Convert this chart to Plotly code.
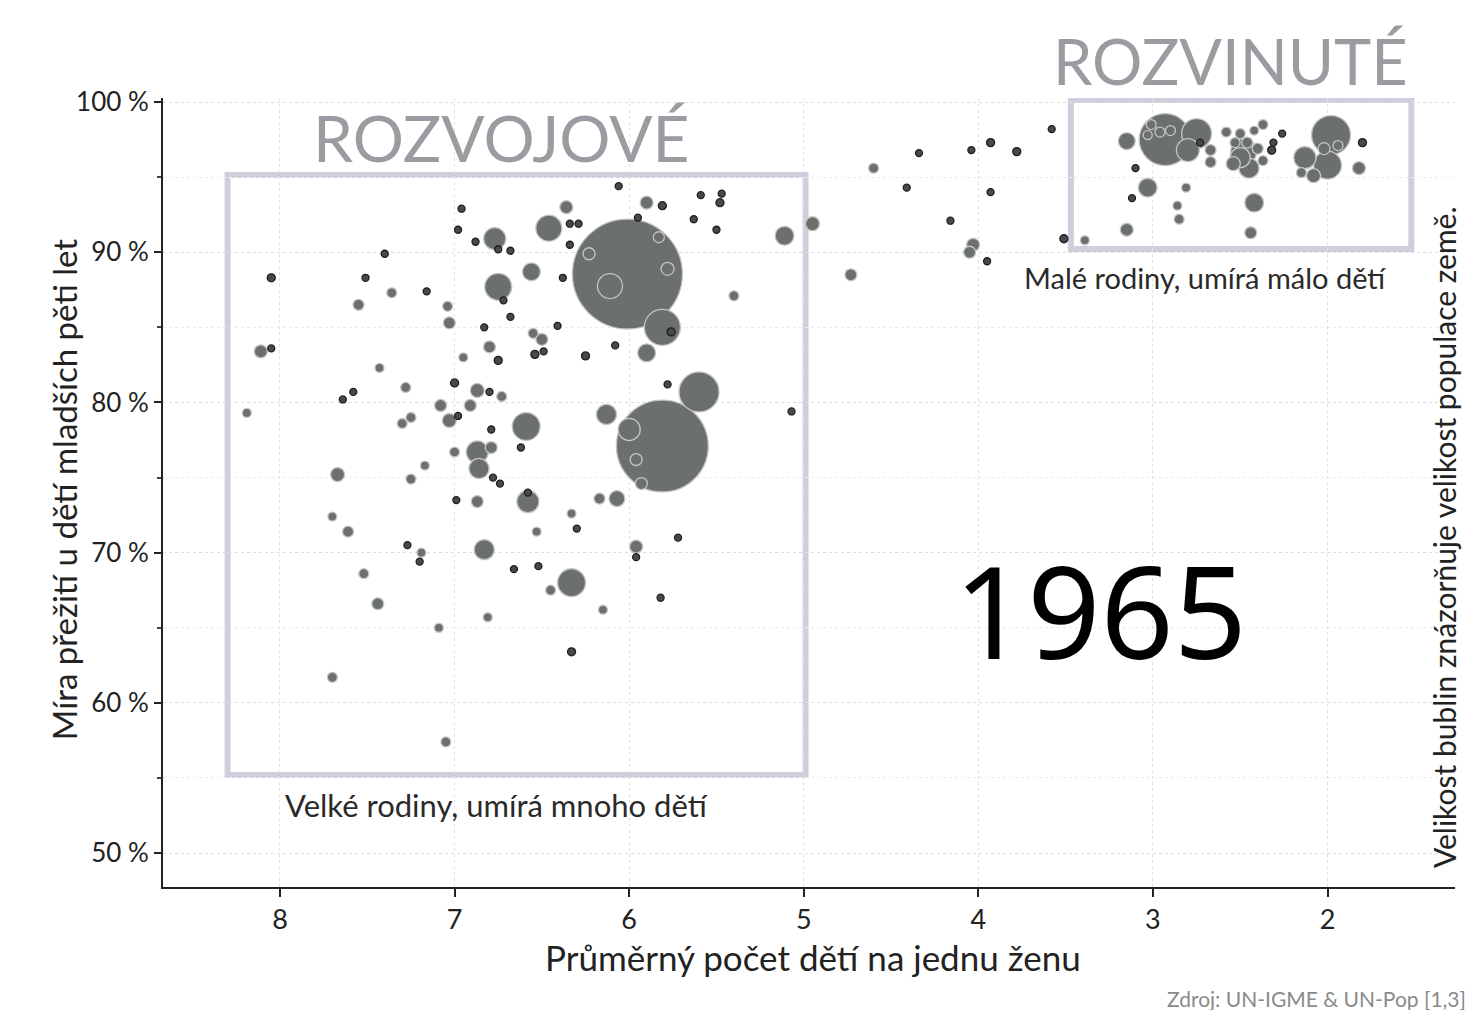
import numpy as np
import plotly.graph_objects as go

# ---- data: fertility (children per woman), under-5 survival (%), population (millions)
fertility = [6.01, 5.81, 5.81, 5.60, 5.90, 6.13, 6.23, 6.11, 5.83, 5.78, 5.76, 6.00, 5.96, 5.93, 5.78,
             5.40, 5.07, 5.11, 4.95, 4.73, 4.60, 4.41, 4.34, 4.04, 3.93, 3.78, 4.16, 3.93, 4.03, 4.05,
             3.95, 3.58, 3.51, 3.39,
             3.15, 2.93, 3.01, 2.96, 2.90, 3.03, 2.75, 2.80, 2.67, 2.67, 2.73, 3.10, 3.03, 3.12, 2.81,
             2.86, 2.85, 3.15, 2.58, 2.50, 2.42, 2.37, 2.53, 2.46, 2.40, 2.50, 2.45, 2.37, 2.32, 2.31,
             2.26, 2.54, 1.98, 2.00, 2.13, 2.02, 1.94, 2.15, 2.08, 1.80, 1.82, 2.42, 2.44, 2.48,
             6.06, 5.90, 5.81, 5.59, 5.47, 5.48, 5.63, 5.50, 5.95, 6.96, 6.98, 6.36, 6.46, 6.34, 6.29,
             6.34, 6.77, 6.88, 6.75, 6.68, 6.56, 6.38, 6.75, 6.72, 7.40, 8.05, 7.51, 7.36, 7.55, 7.16,
             7.04, 7.03, 6.68, 6.83, 6.41, 6.55, 6.50, 6.80, 6.95, 6.75, 6.54, 6.49, 6.25, 6.08, 8.11,
             7.43, 8.19, 7.64, 7.58, 7.28, 7.00, 6.87, 6.80, 6.73, 7.08, 6.91, 7.30, 7.25, 7.03, 6.98,
             6.59, 6.79, 6.62, 7.00, 6.87, 6.79, 6.86, 6.78, 6.74, 7.17, 7.25, 7.67, 7.70, 7.61, 6.99,
             6.87, 6.58, 6.58, 6.33, 6.30, 6.17, 6.07, 6.53, 5.96, 5.96, 7.27, 7.19, 7.20, 6.83, 6.66,
             6.52, 7.52, 6.33, 6.45, 7.44, 6.81, 7.09, 6.15, 5.82, 6.33, 7.70, 7.05, 5.72, 8.05]

survival = [88.55, 77.1, 85.0, 80.7, 83.3, 79.2, 89.9, 87.75, 91.0, 88.9, 84.7, 78.2, 76.2, 74.6, 81.2,
            87.1, 79.4, 91.1, 91.9, 88.5, 95.6, 94.3, 96.6, 96.8, 97.3, 96.7, 92.1, 94.0, 90.5, 90.0,
            89.4, 98.2, 90.9, 90.8,
            97.4, 97.5, 98.5, 98.0, 98.1, 97.8, 97.9, 96.8, 96.8, 96.0, 97.3, 95.6, 94.3, 93.6, 94.3,
            93.1, 92.2, 91.5, 98.0, 97.9, 98.1, 98.5, 97.3, 97.3, 96.9, 96.3, 95.6, 96.1, 96.8, 97.3,
            97.9, 95.9, 97.8, 95.8, 96.3, 96.9, 97.1, 95.3, 95.1, 97.3, 95.6, 93.3, 91.3, 96.7,
            94.4, 93.3, 93.1, 93.8, 93.9, 93.3, 92.2, 91.5, 92.3, 92.9, 91.5, 93.0, 91.6, 91.9, 91.9,
            90.5, 90.9, 90.7, 90.2, 90.1, 88.7, 88.3, 87.7, 86.8, 89.9, 88.3, 88.3, 87.3, 86.5, 87.4,
            86.4, 85.3, 85.7, 85.0, 85.1, 84.6, 84.2, 83.7, 83.0, 82.8, 83.2, 83.4, 83.1, 83.8, 83.4,
            82.3, 79.3, 80.2, 80.7, 81.0, 81.3, 80.8, 80.7, 80.4, 79.8, 79.8, 78.6, 79.0, 78.8, 79.1,
            78.4, 78.2, 77.0, 76.7, 76.7, 77.0, 75.6, 75.0, 74.6, 75.8, 74.9, 75.2, 72.4, 71.4, 73.5,
            73.4, 73.4, 74.0, 72.6, 71.6, 73.6, 73.6, 71.4, 70.4, 69.7, 70.5, 70.0, 69.4, 70.2, 68.9,
            69.1, 68.6, 68.0, 67.5, 66.6, 65.7, 65.0, 66.2, 67.0, 63.4, 61.7, 57.4, 71.0, 83.6]

population = [716, 500, 77, 95, 19, 24, 8.5, 37, 7.2, 10, 3.8, 29, 8.5, 8.5, 2.9,
              5.9, 2.9, 21, 11.6, 8.5, 5.9, 2.9, 2.9, 2.9, 3.8, 3.8, 2.9, 2.9, 10, 8.5,
              2.9, 2.9, 3.8, 4.8,
              17, 160, 5.9, 5.9, 5.9, 4.8, 53, 31, 7.2, 7.2, 2.9, 2.9, 21, 2.9, 4.8,
              4.8, 5.9, 10, 5.9, 5.9, 4.8, 5.9, 5.9, 7.2, 7.2, 24, 24, 5.9, 3.8, 2.9,
              2.9, 11.6, 90, 46, 29, 8.5, 5.9, 5.9, 11.6, 3.8, 10, 21, 8.5, 40,
              2.9, 10, 3.8, 2.9, 2.9, 3.8, 2.9, 2.9, 2.9, 2.9, 2.9, 10, 40, 2.9, 2.9,
              2.9, 29, 2.9, 2.9, 2.9, 19, 2.9, 43, 2.9, 2.9, 3.8, 2.9, 5.9, 7.2, 2.9,
              5.9, 8.5, 2.9, 2.9, 2.9, 5.9, 8.5, 8.5, 4.8, 3.8, 3.8, 2.9, 3.8, 2.9, 10,
              4.8, 4.8, 2.9, 2.9, 5.9, 3.8, 11.6, 2.9, 5.9, 8.5, 8.5, 5.9, 5.9, 11.6, 2.9,
              46, 2.9, 2.9, 5.9, 29, 8.5, 24, 2.9, 2.9, 4.8, 5.9, 11.6, 4.8, 7.2, 2.9,
              8.5, 29, 2.9, 4.8, 2.9, 7.2, 15, 4.8, 10, 2.9, 2.9, 4.8, 2.9, 24, 2.9,
              2.9, 5.9, 46, 5.9, 8.5, 4.8, 4.8, 4.8, 2.9, 3.8, 5.9, 5.9, 2.9, 2.9]

x_ticks = [8, 7, 6, 5, 4, 3, 2]
y_ticks = [50, 60, 70, 80, 90, 100]
y_tick_labels = ["50 %", "60 %", "70 %", "80 %", "90 %", "100 %"]

year_label = "1965"
developing_box = dict(x0=8.30, x1=4.99, y0=55.2, y1=95.14)
developed_box = dict(x0=3.47, x1=1.52, y0=90.21, y1=100.13)

# ---- build
fert = np.array(fertility)
surv = np.array(survival)
pop = np.array(population)
order = np.argsort(-pop)
fert, surv, pop = fert[order], surv[order], pop[order]
diam = 4.11 * np.sqrt(pop)
small = pop < 4
fill = np.where(small, "#474a47", "#6c706c")
edge = np.where(small, "#1e1e1e", "#c4c6c4")

fig = go.Figure()
fig.add_trace(go.Scatter(
    x=fert, y=surv, mode="markers",
    marker=dict(size=diam, sizemode="diameter", color=fill,
                line=dict(color=edge, width=1.3), opacity=1),
    hoverinfo="skip", showlegend=False,
))

box_col = "rgb(206,206,220)"
for b in (developing_box, developed_box):
    fig.add_shape(type="rect", xref="x", yref="y", layer="below",
                  line=dict(color=box_col, width=6), **b)

FONT = "Lato, 'Open Sans', sans-serif"

fig.update_xaxes(range=[8.67, 1.27], tickvals=x_ticks, ticks="outside", ticklen=8,
                 tickwidth=1.5, tickcolor="#222", showline=True, linecolor="#222", linewidth=2,
                 showgrid=True, gridcolor="#e2e2e2", griddash="dot", gridwidth=1,
                 zeroline=False, tickfont=dict(family=FONT, size=27, color="#222"))
fig.update_yaxes(range=[47.74, 100.27], tickvals=y_ticks, ticktext=y_tick_labels,
                 ticks="outside", ticklen=7, tickwidth=1.5, tickcolor="#222",
                 showline=True, linecolor="#222", linewidth=2,
                 showgrid=True, gridcolor="#dedede", griddash="dot", gridwidth=1,
                 minor=dict(dtick=5, tick0=0, ticks="outside", ticklen=4, tickcolor="#444",
                            showgrid=True, gridcolor="#ececec", griddash="dot"),
                 zeroline=False, tickfont=dict(family=FONT, size=26, color="#222"))


def note(text, x, y, size, color="#222", xref="paper", yref="paper", angle=0,
         xanchor="center", family=FONT):
    return dict(x=x, y=y, xref=xref, yref=yref, text=text, showarrow=False,
                xanchor=xanchor, yanchor="middle", textangle=angle,
                font=dict(family=family, size=size, color=color))


ann = [
    note("ROZVOJOVÉ", 6.73, 97.67, 64, "#9a9ca2", "x", "y"),
    note("ROZVINUTÉ", 0.826, 1.048, 63, "#9a9ca2"),
    note("Malé rodiny, umírá málo dětí", 2.70, 88.3, 29, "#2a2a2a", "x", "y"),
    note("Velké rodiny, umírá mnoho dětí", 6.76, 53.2, 31, "#2a2a2a", "x", "y"),
    note(year_label, 3.30, 66.2, 128, "#000", "x", "y", family="'Noto Sans', sans-serif"),
    note("Míra přežití u dětí mladších pěti let", -0.0766, 0.503, 33, angle=-90),
    note("Průměrný počet dětí na jednu ženu", 0.503, -0.0887, 35),
    note("Velikost bublin znázorňuje velikost populace země.", 0.991, 0.444, 30, angle=-90),
    note("Zdroj: UN-IGME & UN-Pop [1,3]", 1.010, -0.141, 21, "#8a8a8a", xanchor="right"),
]

fig.update_layout(width=1473, height=1010, paper_bgcolor="white", plot_bgcolor="white",
                  margin=dict(l=163, r=18, t=98, b=123), annotations=ann, showlegend=False)

fig.write_html("out.html", config={"displayModeBar": False},
               post_script="document.body.style.margin='0';")
